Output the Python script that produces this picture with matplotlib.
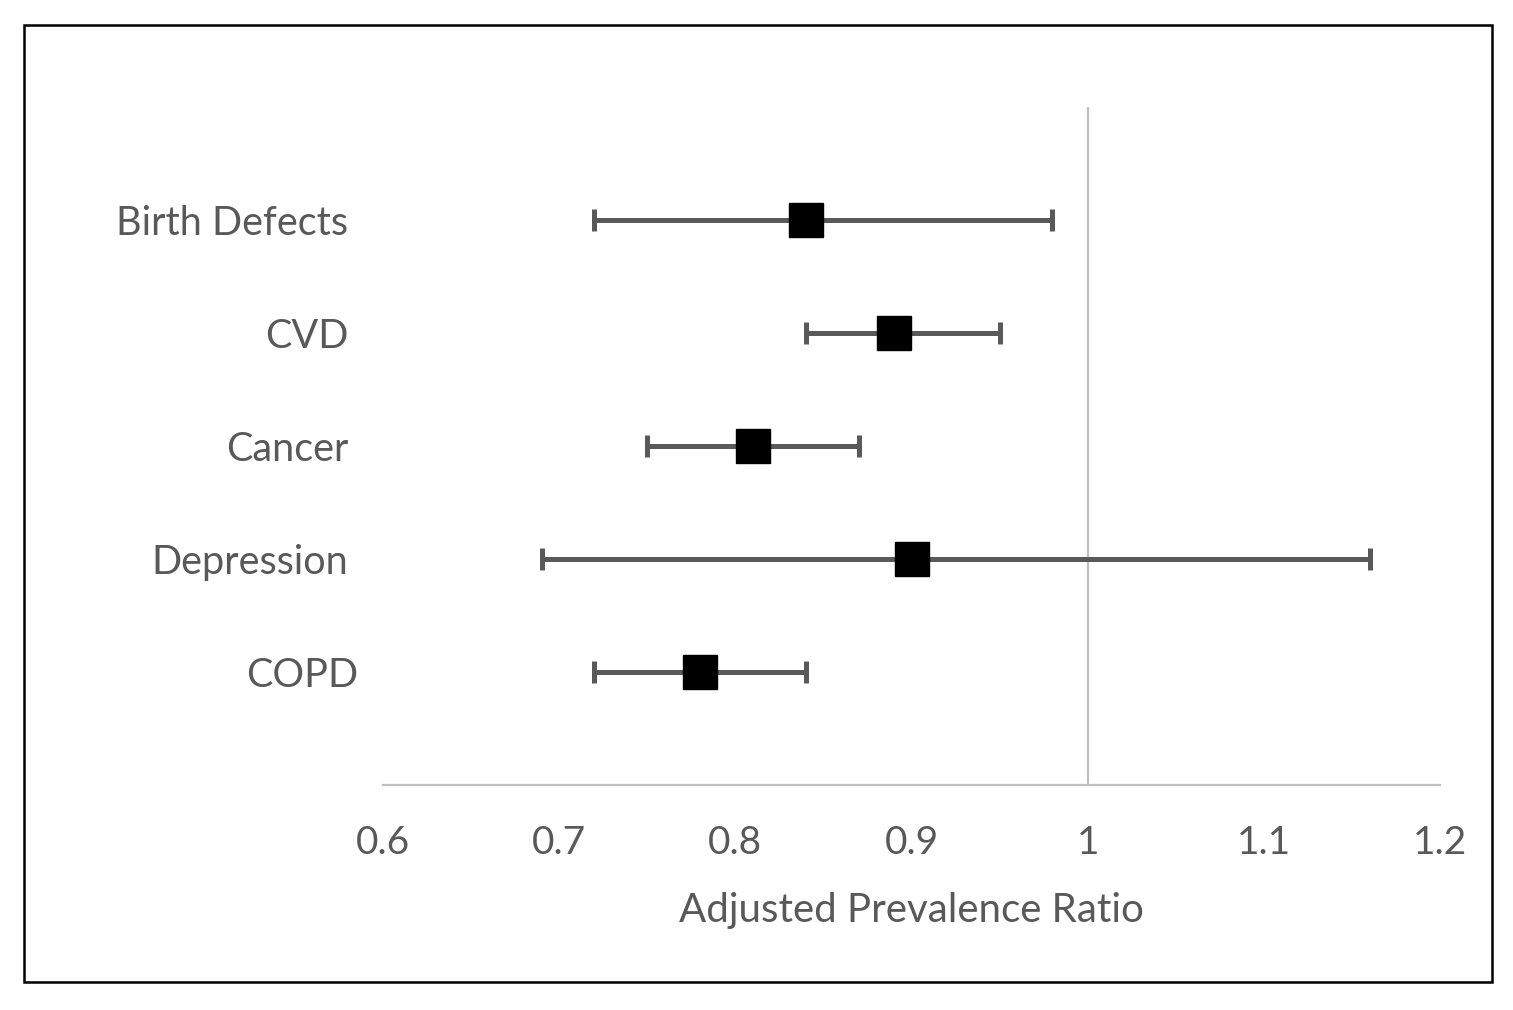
import matplotlib
matplotlib.use('Agg')
import matplotlib.pyplot as plt
import matplotlib.transforms as mtransforms
from matplotlib.patches import Rectangle

plt.rcParams['font.family'] = ['Lato', 'DejaVu Sans']

# 데이터
outcomes = ['Birth Defects', 'CVD', 'Cancer', 'Depression', 'COPD']
ratio = [0.84, 0.89, 0.81, 0.90, 0.78]
ci_low = [0.72, 0.84, 0.75, 0.69, 0.72]
ci_high = [0.98, 0.95, 0.87, 1.16, 0.84]
x_ticks = [0.6, 0.7, 0.8, 0.9, 1.0, 1.1, 1.2]
x_tick_labels = ['0.6', '0.7', '0.8', '0.9', '1', '1.1', '1.2']

gray = '#595959'
light = '#bfbfbf'

fig = plt.figure(figsize=(15.13, 10.1), dpi=100)
ax = fig.add_axes([383/1513, 1 - 785/1010, (1440-383)/1513, (785-107)/1010])

ypos = list(range(len(outcomes), 0, -1))
err_lo = [r - l for r, l in zip(ratio, ci_low)]
err_hi = [h - r for r, h in zip(ratio, ci_high)]

ax.axvline(1.0, color=light, lw=1.6, zorder=1)
ax.errorbar(ratio, ypos, xerr=[err_lo, err_hi], fmt='none', ecolor=gray,
            elinewidth=3.6, capsize=8, capthick=3.6, zorder=2)
ax.plot(ratio, ypos, 's', color='black', markersize=24, zorder=3)

ax.set_xlim(0.6, 1.2)
ax.set_ylim(0, len(outcomes) + 1)
ax.set_xticks(x_ticks)
ax.set_xticklabels(x_tick_labels)
ax.set_yticks(ypos)
ax.set_yticklabels(outcomes)
ax.tick_params(axis='x', length=0, pad=29, labelsize=28, labelcolor=gray)
ax.tick_params(axis='y', length=0, pad=25, labelsize=28.5, labelcolor=gray)

for side in ['top', 'right', 'left']:
    ax.spines[side].set_visible(False)
ax.spines['bottom'].set_color(light)
ax.spines['bottom'].set_linewidth(1.6)

# COPD 라벨만 조금 오른쪽
lbl = ax.get_yticklabels()[-1]
lbl.set_transform(lbl.get_transform() + mtransforms.ScaledTranslation(10/100, 0, fig.dpi_scale_trans))

ax.set_xlabel('Adjusted Prevalence Ratio', fontsize=29, color=gray, labelpad=22)

# 바깥 테두리
fig.patches.append(Rectangle((24/1513, 1 - 982/1010), (1492-24)/1513, (982-25)/1010,
                             transform=fig.transFigure, fill=False, edgecolor='black', lw=1.8))

fig.savefig('out.png', dpi=100)
